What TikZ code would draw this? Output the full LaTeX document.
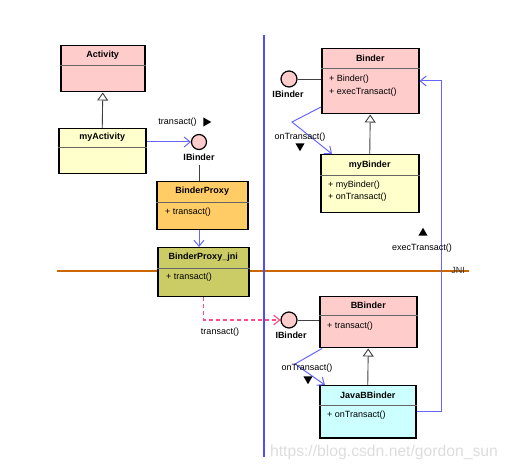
\documentclass[tikz,border=0pt]{standalone}
\usepackage{fontspec}
\setmainfont{Liberation Sans}
\usetikzlibrary{arrows.meta,shapes.geometric,calc}
\definecolor{cpink}{HTML}{FFCCCC}
\definecolor{cyel}{HTML}{FFFFCC}
\definecolor{corange}{HTML}{FFCC66}
\definecolor{colive}{HTML}{CCCC66}
\definecolor{ccyan}{HTML}{CCFFFF}
\definecolor{cblue}{HTML}{6666FF}
\definecolor{cvblue}{HTML}{4D4DFF}
\definecolor{cjni}{HTML}{CC6600}
\definecolor{cdash}{HTML}{FF4C88}
\definecolor{cwm}{HTML}{DDDDDD}
\begin{document}
\begin{tikzpicture}[x=1pt,y=-1pt,
 cls/.style={draw=black, line width=1.5pt, rectangle, anchor=north west, inner sep=0pt},
 div/.style={draw=black!60, line width=0.8pt},
 ttl/.style={font=\fontsize{9}{10}\selectfont\bfseries, inner sep=0pt},
 op/.style={font=\fontsize{9}{10}\selectfont, inner sep=0pt, anchor=west},
 lbl/.style={font=\fontsize{9}{10}\selectfont, inner sep=0pt},
 iface/.style={circle, draw=black, line width=1.2pt, fill=cpink, minimum size=15pt, inner sep=0pt},
 ifl/.style={font=\fontsize{9}{10}\selectfont\bfseries, inner sep=1pt},
 assoc/.style={draw=black!75, line width=0.9pt},
 inherit/.style={draw=black!75, line width=0.9pt, -{Triangle[length=8pt,width=11pt,fill=white]}},
 call/.style={draw=cblue, line width=1pt, -{Straight Barb[length=6pt,width=10pt]}},
 dashcall/.style={draw=cdash, line width=1.1pt, dash pattern=on 4pt off 3pt, -{Straight Barb[length=6pt,width=10pt]}},
 dirmark/.style={regular polygon, regular polygon sides=3, fill=black, inner sep=0pt, minimum size=10.5pt},
]
\useasboundingbox (0,0) rectangle (507,468);

% separators
\coordinate (jniL) at (57,271);
\coordinate (jniR) at (469,271);
\draw[draw=cjni, line width=2.5pt] (jniL) -- (jniR);
\coordinate (vT) at (264,35);
\coordinate (vB) at (264,457);
\draw[draw=cvblue, line width=2pt] (vT) -- (vB);
\node[lbl, text=black!80] (jni) at (458,270) {JNI};

% Activity
\node[cls, fill=cpink, minimum width=84pt, minimum height=46pt] (act) at (60,45) {};
\draw[div] (act.west |- 0,65) -- (act.east |- 0,65);
\node[ttl] at (act.north |- 0,55) {Activity};

% myActivity
\node[cls, fill=cyel, minimum width=87pt, minimum height=45pt] (myact) at (58,128) {};
\draw[div] (myact.west |- 0,147) -- (myact.east |- 0,147);
\node[ttl] at (myact.north |- 0,137) {myActivity};
\draw[inherit] (myact.north) -- (act.south);

% IBinder 1
\node[iface] (ib1) at (199,142) {};
\node[ifl] (ib1l) at (199,157) {IBinder};
\draw[call] (myact.east |- ib1) -- (ib1.west);
\node[lbl] (t1) at (177.5,122) {transact()};
\node[dirmark, shape border rotate=-90] (m1) at (206,122) {};

% BinderProxy
\node[cls, fill=corange, minimum width=91pt, minimum height=48pt] (bp) at (156,181) {};
\draw[div] (bp.west |- 0,202) -- (bp.east |- 0,202);
\node[ttl] at (bp.north |- 0,191) {BinderProxy};
\node[op] at (165,212) {+ transact()};
\draw[assoc] ([yshift=-3pt]ib1l.south) -- (ib1l.south |- bp.north);

% BinderProxy_jni
\node[cls, fill=colive, minimum width=91pt, minimum height=49pt] (bpj) at (157,247) {};
\draw[div] (bpj.west |- 0,268) -- (bpj.east |- 0,268);
\node[ttl] at (bpj.north |- 0,257) {BinderProxy\_jni};
\node[op] at (166,277) {+ transact()};
\draw[call] (bp.south -| ib1) -- (bpj.north -| ib1);

% Binder
\node[cls, fill=cpink, minimum width=97pt, minimum height=65pt] (binder) at (321,48) {};
\draw[div] (binder.west |- 0,68) -- (binder.east |- 0,68);
\node[ttl] at (binder.north |- 0,58) {Binder};
\node[op] at (329,79) {+ Binder()};
\node[op] at (329,92) {+ execTransact()};
\node[iface, minimum size=16pt] (ib3) at (289,79) {};
\node[ifl] (ib3l) at (288,94) {IBinder};
\draw[assoc] (ib3.east) -- (binder.west |- ib3);

% myBinder
\node[cls, fill=cyel, minimum width=98pt, minimum height=58pt] (mybinder) at (320,154) {};
\draw[div] (mybinder.west |- 0,175) -- (mybinder.east |- 0,175);
\node[ttl] at (mybinder.north |- 0,165) {myBinder};
\node[op] at (328,185) {+ myBinder()};
\node[op] at (328,197) {+ onTransact()};
\draw[inherit] (mybinder.north) -- (binder.south);
\coordinate (k1) at (292,122);
\draw[call] (binder.west |- 0,107) -- (k1) -- (mybinder.north -| 332,0);
\node[lbl] (t3) at (300,137) {onTransact()};
\node[dirmark, shape border rotate=180] (m3) at (300,146) {};

% BBinder
\node[cls, fill=cpink, minimum width=97pt, minimum height=51pt] (bbinder) at (319,296) {};
\draw[div] (bbinder.west |- 0,315) -- (bbinder.east |- 0,315);
\node[ttl] at (bbinder.north |- 0,305) {BBinder};
\node[op] at (327,326) {+ transact()};
\node[iface, minimum size=16pt] (ib2) at (289,320) {};
\node[ifl] (ib2l) at (291,335) {IBinder};
\draw[assoc] (ib2.east) -- (bbinder.west |- ib2);
\draw[dashcall] (bpj.south) |- (ib2.west);
\node[lbl] (t2) at (220,332) {transact()};

% JavaBBinder
\node[cls, fill=ccyan, minimum width=96pt, minimum height=52pt] (jbb) at (319,385) {};
\draw[div] (jbb.west |- 0,405) -- (jbb.east |- 0,405);
\node[ttl] at (jbb.north |- 0,395) {JavaBBinder};
\node[op] at (327,415) {+ onTransact()};
\draw[inherit] (jbb.north) -- (bbinder.south);
\coordinate (k2) at (295,364);
\draw[call] ($(bbinder.south west)+(3,0)$) -- (k2) -- (jbb.north -| 325,0);
\node[lbl] (t4) at (307,368) {onTransact()};
\node[dirmark, shape border rotate=180] (m4) at (308,379) {};

% execTransact loop
\coordinate (loopTop) at (441,81);
\draw[call] (jbb.east |- 0,412) -| (loopTop) -- (binder.east |- loopTop);
\node[lbl] (t5) at (422,248) {execTransact()};
\node[dirmark] (m5) at (423,233) {};

% watermark
\node[font=\fontsize{15.7}{17}\selectfont, text=cwm, inner sep=0pt] (wm) at (384,452) {https://blog.csdn.net/gordon\_sun};
\end{tikzpicture}
\end{document}
